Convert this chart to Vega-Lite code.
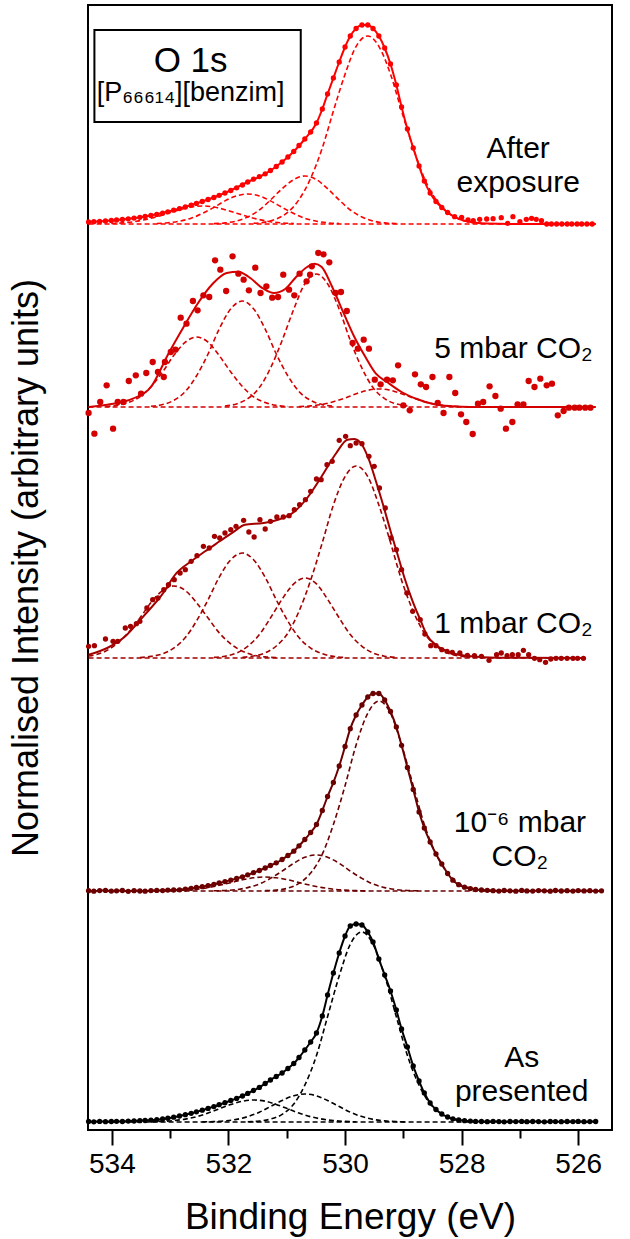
{
"$schema":"https://vega.github.io/schema/vega-lite/v6.json",
"width":524,"height":1125,
"autosize":{"type":"none"},
"padding":{"left":88,"top":5,"right":18,"bottom":109},
"background":"#ffffff",
"config":{"view":{"stroke":"#000000","strokeWidth":2},"font":"Liberation Sans"},
"datasets":{
"pts":[
{"s":"A","e":534.40,"v":4.5},{"s":"A","e":534.31,"v":4.2},{"s":"A","e":534.21,"v":4.6},{"s":"A","e":534.11,"v":4.3},{"s":"A","e":534.01,"v":4.5},{"s":"A","e":533.92,"v":4.7},{"s":"A","e":533.82,"v":4.5},{"s":"A","e":533.72,"v":4.9},{"s":"A","e":533.62,"v":5},{"s":"A","e":533.52,"v":5.3},{"s":"A","e":533.43,"v":5.5},{"s":"A","e":533.33,"v":5.9},{"s":"A","e":533.23,"v":6.3},{"s":"A","e":533.13,"v":7},{"s":"A","e":533.04,"v":7.8},{"s":"A","e":532.94,"v":8.8},{"s":"A","e":532.84,"v":10},{"s":"A","e":532.74,"v":11.3},{"s":"A","e":532.64,"v":12.7},{"s":"A","e":532.55,"v":14.2},{"s":"A","e":532.45,"v":15.8},{"s":"A","e":532.35,"v":17.6},{"s":"A","e":532.25,"v":19.4},{"s":"A","e":532.16,"v":21.3},{"s":"A","e":532.06,"v":23.3},{"s":"A","e":531.96,"v":25.5},{"s":"A","e":531.86,"v":27.6},{"s":"A","e":531.76,"v":30},{"s":"A","e":531.67,"v":32.6},{"s":"A","e":531.57,"v":35.5},{"s":"A","e":531.47,"v":38.6},{"s":"A","e":531.37,"v":42.5},{"s":"A","e":531.28,"v":46},{"s":"A","e":531.18,"v":49.5},{"s":"A","e":531.08,"v":53},{"s":"A","e":530.98,"v":57.5},{"s":"A","e":530.88,"v":62.5},{"s":"A","e":530.79,"v":68.5},{"s":"A","e":530.69,"v":76},{"s":"A","e":530.59,"v":84},{"s":"A","e":530.49,"v":93},{"s":"A","e":530.39,"v":110},{"s":"A","e":530.30,"v":131},{"s":"A","e":530.20,"v":153},{"s":"A","e":530.10,"v":173},{"s":"A","e":530.00,"v":190},{"s":"A","e":529.91,"v":200},{"s":"A","e":529.81,"v":202},{"s":"A","e":529.71,"v":201},{"s":"A","e":529.61,"v":194},{"s":"A","e":529.52,"v":184},{"s":"A","e":529.42,"v":167},{"s":"A","e":529.32,"v":151},{"s":"A","e":529.22,"v":135},{"s":"A","e":529.12,"v":116},{"s":"A","e":529.03,"v":97},{"s":"A","e":528.93,"v":79},{"s":"A","e":528.83,"v":60},{"s":"A","e":528.73,"v":45},{"s":"A","e":528.64,"v":33},{"s":"A","e":528.54,"v":23},{"s":"A","e":528.44,"v":16.5},{"s":"A","e":528.34,"v":12},{"s":"A","e":528.24,"v":9},{"s":"A","e":528.15,"v":7.2},{"s":"A","e":528.05,"v":6},{"s":"A","e":527.95,"v":5.3},{"s":"A","e":527.85,"v":4.9},{"s":"A","e":527.76,"v":4.6},{"s":"A","e":527.66,"v":4.5},{"s":"A","e":527.56,"v":4.3},{"s":"A","e":527.46,"v":4.6},{"s":"A","e":527.36,"v":4.4},{"s":"A","e":527.27,"v":4.2},{"s":"A","e":527.17,"v":4.5},{"s":"A","e":527.07,"v":4.4},{"s":"A","e":526.97,"v":4.6},{"s":"A","e":526.88,"v":4.3},{"s":"A","e":526.78,"v":4.5},{"s":"A","e":526.68,"v":4.4},{"s":"A","e":526.58,"v":4.2},{"s":"A","e":526.48,"v":4.5},{"s":"A","e":526.39,"v":4.4},{"s":"A","e":526.29,"v":4.3},{"s":"A","e":526.19,"v":4.5},{"s":"A","e":526.09,"v":4.4},{"s":"A","e":526.00,"v":4.6},{"s":"A","e":525.90,"v":4.3},{"s":"A","e":525.80,"v":4.4},{"s":"A","e":525.70,"v":4.5},
{"s":"B","e":534.40,"v":235.3},{"s":"B","e":534.31,"v":234.8},{"s":"B","e":534.21,"v":235.4},{"s":"B","e":534.11,"v":235.6},{"s":"B","e":534.01,"v":234.9},{"s":"B","e":533.92,"v":235.2},{"s":"B","e":533.82,"v":235.5},{"s":"B","e":533.72,"v":234.7},{"s":"B","e":533.62,"v":235.3},{"s":"B","e":533.52,"v":235},{"s":"B","e":533.43,"v":234.8},{"s":"B","e":533.33,"v":235.4},{"s":"B","e":533.23,"v":235.6},{"s":"B","e":533.13,"v":235.4},{"s":"B","e":533.04,"v":235.9},{"s":"B","e":532.94,"v":236},{"s":"B","e":532.84,"v":236.2},{"s":"B","e":532.74,"v":236.9},{"s":"B","e":532.64,"v":237.7},{"s":"B","e":532.55,"v":238.5},{"s":"B","e":532.45,"v":239.3},{"s":"B","e":532.35,"v":240.4},{"s":"B","e":532.25,"v":241.7},{"s":"B","e":532.16,"v":243},{"s":"B","e":532.06,"v":244.4},{"s":"B","e":531.96,"v":245.9},{"s":"B","e":531.86,"v":247.5},{"s":"B","e":531.76,"v":249.2},{"s":"B","e":531.67,"v":251.2},{"s":"B","e":531.57,"v":253.3},{"s":"B","e":531.47,"v":255.5},{"s":"B","e":531.37,"v":258},{"s":"B","e":531.28,"v":260.5},{"s":"B","e":531.18,"v":263.2},{"s":"B","e":531.08,"v":266.5},{"s":"B","e":530.98,"v":270.5},{"s":"B","e":530.88,"v":274.8},{"s":"B","e":530.79,"v":280.2},{"s":"B","e":530.69,"v":286.5},{"s":"B","e":530.59,"v":293.5},{"s":"B","e":530.49,"v":301.5},{"s":"B","e":530.39,"v":315.5},{"s":"B","e":530.30,"v":329.5},{"s":"B","e":530.20,"v":343.5},{"s":"B","e":530.10,"v":360},{"s":"B","e":530.00,"v":379.5},{"s":"B","e":529.91,"v":397.3},{"s":"B","e":529.81,"v":411},{"s":"B","e":529.71,"v":421},{"s":"B","e":529.61,"v":429},{"s":"B","e":529.52,"v":432.5},{"s":"B","e":529.42,"v":432.5},{"s":"B","e":529.32,"v":426},{"s":"B","e":529.22,"v":414.5},{"s":"B","e":529.12,"v":399},{"s":"B","e":529.03,"v":380.7},{"s":"B","e":528.93,"v":358.5},{"s":"B","e":528.83,"v":336.5},{"s":"B","e":528.73,"v":314},{"s":"B","e":528.64,"v":298},{"s":"B","e":528.54,"v":284},{"s":"B","e":528.44,"v":272},{"s":"B","e":528.34,"v":262},{"s":"B","e":528.24,"v":252.5},{"s":"B","e":528.15,"v":245.8},{"s":"B","e":528.05,"v":241.3},{"s":"B","e":527.95,"v":238.8},{"s":"B","e":527.85,"v":237.4},{"s":"B","e":527.76,"v":236.5},{"s":"B","e":527.66,"v":236},{"s":"B","e":527.56,"v":235.7},{"s":"B","e":527.46,"v":235.3},{"s":"B","e":527.36,"v":234.9},{"s":"B","e":527.27,"v":235.5},{"s":"B","e":527.17,"v":235.2},{"s":"B","e":527.07,"v":234.8},{"s":"B","e":526.97,"v":235.6},{"s":"B","e":526.88,"v":235.1},{"s":"B","e":526.78,"v":234.9},{"s":"B","e":526.68,"v":235.4},{"s":"B","e":526.58,"v":235.2},{"s":"B","e":526.48,"v":234.8},{"s":"B","e":526.39,"v":235.5},{"s":"B","e":526.29,"v":235},{"s":"B","e":526.19,"v":235.3},{"s":"B","e":526.09,"v":234.9},{"s":"B","e":526.00,"v":235.4},{"s":"B","e":525.90,"v":235.1},{"s":"B","e":525.80,"v":235.3},{"s":"B","e":525.70,"v":234.9},{"s":"B","e":525.60,"v":235.2},
{"s":"C","e":534.40,"v":479.7},{"s":"C","e":534.30,"v":480.3},{"s":"C","e":534.11,"v":487},{"s":"C","e":533.98,"v":484.7},{"s":"C","e":533.90,"v":484.7},{"s":"C","e":533.77,"v":498},{"s":"C","e":533.68,"v":499.7},{"s":"C","e":533.58,"v":502.3},{"s":"C","e":533.52,"v":504.7},{"s":"C","e":533.40,"v":518},{"s":"C","e":533.30,"v":526.3},{"s":"C","e":533.21,"v":528},{"s":"C","e":533.11,"v":536.3},{"s":"C","e":533.03,"v":541.3},{"s":"C","e":532.93,"v":546.3},{"s":"C","e":532.83,"v":553},{"s":"C","e":532.74,"v":556.3},{"s":"C","e":532.64,"v":564.7},{"s":"C","e":532.54,"v":570.3},{"s":"C","e":532.43,"v":579.7},{"s":"C","e":532.33,"v":578},{"s":"C","e":532.24,"v":589.7},{"s":"C","e":532.15,"v":588},{"s":"C","e":532.06,"v":593},{"s":"C","e":531.96,"v":596.3},{"s":"C","e":531.87,"v":599.7},{"s":"C","e":531.74,"v":605.7},{"s":"C","e":531.65,"v":594},{"s":"C","e":531.56,"v":589},{"s":"C","e":531.46,"v":606.3},{"s":"C","e":531.37,"v":597},{"s":"C","e":531.28,"v":604.7},{"s":"C","e":531.17,"v":609},{"s":"C","e":531.06,"v":609},{"s":"C","e":530.96,"v":610.3},{"s":"C","e":530.87,"v":616.3},{"s":"C","e":530.78,"v":621.3},{"s":"C","e":530.68,"v":626.3},{"s":"C","e":530.59,"v":634.7},{"s":"C","e":530.49,"v":647},{"s":"C","e":530.41,"v":646.3},{"s":"C","e":530.31,"v":661.3},{"s":"C","e":530.22,"v":664.7},{"s":"C","e":530.10,"v":685.7},{"s":"C","e":529.99,"v":689.7},{"s":"C","e":529.91,"v":680.3},{"s":"C","e":529.81,"v":683},{"s":"C","e":529.71,"v":682.3},{"s":"C","e":529.59,"v":669.7},{"s":"C","e":529.50,"v":659.7},{"s":"C","e":529.41,"v":638},{"s":"C","e":529.31,"v":618},{"s":"C","e":529.21,"v":588},{"s":"C","e":529.12,"v":576.3},{"s":"C","e":529.03,"v":556.3},{"s":"C","e":528.94,"v":533},{"s":"C","e":528.84,"v":514.7},{"s":"C","e":528.71,"v":506.3},{"s":"C","e":528.63,"v":492},{"s":"C","e":528.53,"v":480.3},{"s":"C","e":528.44,"v":480.3},{"s":"C","e":528.34,"v":476.3},{"s":"C","e":528.25,"v":474.7},{"s":"C","e":528.16,"v":473.7},{"s":"C","e":528.03,"v":473},{"s":"C","e":527.90,"v":470.7},{"s":"C","e":527.78,"v":470.3},{"s":"C","e":527.66,"v":469.7},{"s":"C","e":527.53,"v":465.7},{"s":"C","e":527.40,"v":471.3},{"s":"C","e":527.32,"v":473},{"s":"C","e":527.22,"v":470.3},{"s":"C","e":527.13,"v":471.3},{"s":"C","e":527.03,"v":471.3},{"s":"C","e":526.94,"v":475.7},{"s":"C","e":526.85,"v":471.3},{"s":"C","e":526.75,"v":467.7},{"s":"C","e":526.66,"v":466.3},{"s":"C","e":526.56,"v":463.7},{"s":"C","e":526.47,"v":467},{"s":"C","e":526.38,"v":467.7},{"s":"C","e":526.29,"v":467.7},{"s":"C","e":526.19,"v":467.7},{"s":"C","e":526.09,"v":467.7},{"s":"C","e":526.01,"v":467.7},{"s":"C","e":525.91,"v":467.7},
{"s":"D","e":534.40,"v":713},{"s":"D","e":534.30,"v":692.3},{"s":"D","e":534.20,"v":724},{"s":"D","e":534.09,"v":740.7},{"s":"D","e":533.98,"v":697.3},{"s":"D","e":533.90,"v":724},{"s":"D","e":533.80,"v":724},{"s":"D","e":533.71,"v":745},{"s":"D","e":533.59,"v":750.7},{"s":"D","e":533.50,"v":732.3},{"s":"D","e":533.41,"v":753},{"s":"D","e":533.30,"v":764},{"s":"D","e":533.21,"v":754},{"s":"D","e":533.11,"v":749},{"s":"D","e":533.09,"v":764},{"s":"D","e":532.99,"v":774},{"s":"D","e":532.91,"v":776.3},{"s":"D","e":532.82,"v":808.3},{"s":"D","e":532.72,"v":802.3},{"s":"D","e":532.61,"v":825},{"s":"D","e":532.53,"v":815.7},{"s":"D","e":532.43,"v":830.7},{"s":"D","e":532.33,"v":829},{"s":"D","e":532.23,"v":865.7},{"s":"D","e":532.14,"v":856.3},{"s":"D","e":532.04,"v":835},{"s":"D","e":531.93,"v":869.7},{"s":"D","e":531.83,"v":852.3},{"s":"D","e":531.74,"v":846.3},{"s":"D","e":531.65,"v":835.7},{"s":"D","e":531.54,"v":858.3},{"s":"D","e":531.45,"v":833},{"s":"D","e":531.35,"v":839.7},{"s":"D","e":531.25,"v":828.3},{"s":"D","e":531.15,"v":829},{"s":"D","e":531.06,"v":851.3},{"s":"D","e":530.96,"v":836.3},{"s":"D","e":530.87,"v":830.7},{"s":"D","e":530.78,"v":852.3},{"s":"D","e":530.66,"v":844.7},{"s":"D","e":530.60,"v":851.3},{"s":"D","e":530.57,"v":859.7},{"s":"D","e":530.46,"v":873},{"s":"D","e":530.37,"v":871.7},{"s":"D","e":530.27,"v":863.7},{"s":"D","e":530.16,"v":833},{"s":"D","e":530.07,"v":834},{"s":"D","e":529.97,"v":815},{"s":"D","e":529.87,"v":783},{"s":"D","e":529.78,"v":777.3},{"s":"D","e":529.68,"v":786.3},{"s":"D","e":529.59,"v":777.3},{"s":"D","e":529.49,"v":746.3},{"s":"D","e":529.39,"v":741.7},{"s":"D","e":529.28,"v":746.3},{"s":"D","e":529.18,"v":745.7},{"s":"D","e":529.09,"v":760.7},{"s":"D","e":529.00,"v":720.7},{"s":"D","e":528.89,"v":715.7},{"s":"D","e":528.80,"v":751.7},{"s":"D","e":528.70,"v":741.7},{"s":"D","e":528.61,"v":739},{"s":"D","e":528.50,"v":749},{"s":"D","e":528.41,"v":723},{"s":"D","e":528.31,"v":713},{"s":"D","e":528.21,"v":749},{"s":"D","e":528.11,"v":733},{"s":"D","e":528.01,"v":711.7},{"s":"D","e":527.92,"v":704},{"s":"D","e":527.81,"v":692},{"s":"D","e":527.72,"v":722.3},{"s":"D","e":527.63,"v":724},{"s":"D","e":527.52,"v":739.7},{"s":"D","e":527.42,"v":730},{"s":"D","e":527.33,"v":717.3},{"s":"D","e":527.24,"v":697.3},{"s":"D","e":527.13,"v":704},{"s":"D","e":527.04,"v":721.7},{"s":"D","e":526.94,"v":721.7},{"s":"D","e":526.85,"v":745},{"s":"D","e":526.75,"v":739},{"s":"D","e":526.65,"v":747.3},{"s":"D","e":526.54,"v":740.7},{"s":"D","e":526.45,"v":742.3},{"s":"D","e":526.35,"v":710.7},{"s":"D","e":526.25,"v":715},{"s":"D","e":526.16,"v":718.3},{"s":"D","e":526.06,"v":718.3},{"s":"D","e":525.98,"v":718.3},{"s":"D","e":525.88,"v":718.3},{"s":"D","e":525.79,"v":718.3},
{"s":"E","e":534.40,"v":904},{"s":"E","e":534.31,"v":904.3},{"s":"E","e":534.21,"v":904.6},{"s":"E","e":534.11,"v":905},{"s":"E","e":534.01,"v":905.5},{"s":"E","e":533.92,"v":906},{"s":"E","e":533.82,"v":906.6},{"s":"E","e":533.72,"v":907.2},{"s":"E","e":533.62,"v":907.9},{"s":"E","e":533.52,"v":908.7},{"s":"E","e":533.43,"v":909.6},{"s":"E","e":533.33,"v":910.5},{"s":"E","e":533.23,"v":911.6},{"s":"E","e":533.13,"v":912.8},{"s":"E","e":533.04,"v":914.2},{"s":"E","e":532.94,"v":915.8},{"s":"E","e":532.84,"v":917.4},{"s":"E","e":532.74,"v":919},{"s":"E","e":532.64,"v":920.8},{"s":"E","e":532.55,"v":922.6},{"s":"E","e":532.45,"v":924.5},{"s":"E","e":532.35,"v":926.5},{"s":"E","e":532.25,"v":928.5},{"s":"E","e":532.16,"v":930.7},{"s":"E","e":532.06,"v":933},{"s":"E","e":531.96,"v":935.5},{"s":"E","e":531.86,"v":938.2},{"s":"E","e":531.76,"v":941},{"s":"E","e":531.67,"v":944},{"s":"E","e":531.57,"v":946.8},{"s":"E","e":531.47,"v":949.4},{"s":"E","e":531.37,"v":952.2},{"s":"E","e":531.28,"v":955.5},{"s":"E","e":531.18,"v":959.5},{"s":"E","e":531.08,"v":964},{"s":"E","e":530.98,"v":969},{"s":"E","e":530.88,"v":974.5},{"s":"E","e":530.79,"v":980.5},{"s":"E","e":530.69,"v":987},{"s":"E","e":530.59,"v":994},{"s":"E","e":530.49,"v":1003},{"s":"E","e":530.39,"v":1017},{"s":"E","e":530.30,"v":1032},{"s":"E","e":530.20,"v":1048},{"s":"E","e":530.10,"v":1064},{"s":"E","e":530.00,"v":1079},{"s":"E","e":529.91,"v":1090},{"s":"E","e":529.81,"v":1097.5},{"s":"E","e":529.71,"v":1101},{"s":"E","e":529.61,"v":1101},{"s":"E","e":529.52,"v":1097.5},{"s":"E","e":529.42,"v":1090},{"s":"E","e":529.32,"v":1078},{"s":"E","e":529.22,"v":1062},{"s":"E","e":529.12,"v":1041},{"s":"E","e":529.03,"v":1019},{"s":"E","e":528.93,"v":997},{"s":"E","e":528.83,"v":978},{"s":"E","e":528.73,"v":960},{"s":"E","e":528.64,"v":945},{"s":"E","e":528.54,"v":933},{"s":"E","e":528.44,"v":924.5},{"s":"E","e":528.34,"v":918.5},{"s":"E","e":528.24,"v":913.5},{"s":"E","e":528.12,"v":909.3},{"s":"E","e":528.00,"v":908.7},{"s":"E","e":527.89,"v":906},{"s":"E","e":527.80,"v":905.3},{"s":"E","e":527.69,"v":906.7},{"s":"E","e":527.57,"v":907},{"s":"E","e":527.46,"v":907.3},{"s":"E","e":527.32,"v":908.3},{"s":"E","e":527.21,"v":902.7},{"s":"E","e":527.12,"v":909.3},{"s":"E","e":527.00,"v":904.3},{"s":"E","e":526.89,"v":906.7},{"s":"E","e":526.80,"v":907.7},{"s":"E","e":526.72,"v":906.7},{"s":"E","e":526.63,"v":905.3},{"s":"E","e":526.54,"v":902},{"s":"E","e":526.46,"v":902},{"s":"E","e":526.37,"v":902},{"s":"E","e":526.28,"v":902},{"s":"E","e":526.19,"v":902},{"s":"E","e":526.11,"v":902},{"s":"E","e":526.02,"v":902},{"s":"E","e":525.94,"v":902},{"s":"E","e":525.85,"v":902},{"s":"E","e":525.76,"v":902}
],
"fit":[
{"s":"C","e":534.40,"v":471.3},{"s":"C","e":534.08,"v":478},{"s":"C","e":533.77,"v":489.7},{"s":"C","e":533.46,"v":509.7},{"s":"C","e":533.14,"v":531.3},{"s":"C","e":532.90,"v":552.3},{"s":"C","e":532.64,"v":564.7},{"s":"C","e":532.40,"v":574.7},{"s":"C","e":532.15,"v":584.7},{"s":"C","e":531.90,"v":594.7},{"s":"C","e":531.72,"v":601.3},{"s":"C","e":531.40,"v":603},{"s":"C","e":531.15,"v":606.3},{"s":"C","e":530.90,"v":613},{"s":"C","e":530.65,"v":628},{"s":"C","e":530.40,"v":649.7},{"s":"C","e":530.15,"v":673},{"s":"C","e":529.96,"v":686.3},{"s":"C","e":529.84,"v":687},{"s":"C","e":529.71,"v":681.3},{"s":"C","e":529.59,"v":666.3},{"s":"C","e":529.47,"v":644.7},{"s":"C","e":529.34,"v":619.7},{"s":"C","e":529.21,"v":593},{"s":"C","e":529.09,"v":569.7},{"s":"C","e":528.97,"v":546.3},{"s":"C","e":528.84,"v":524.7},{"s":"C","e":528.71,"v":506.3},{"s":"C","e":528.60,"v":491.3},{"s":"C","e":528.41,"v":479.7},{"s":"C","e":528.16,"v":473},{"s":"C","e":527.84,"v":469.7},{"s":"C","e":527.40,"v":468.3},{"s":"C","e":525.90,"v":468},
{"s":"D","e":534.40,"v":719},{"s":"D","e":534.01,"v":722},{"s":"D","e":533.64,"v":727.3},{"s":"D","e":533.33,"v":739},{"s":"D","e":533.03,"v":772.3},{"s":"D","e":532.77,"v":799},{"s":"D","e":532.53,"v":822.3},{"s":"D","e":532.27,"v":842.3},{"s":"D","e":532.03,"v":853},{"s":"D","e":531.83,"v":854.3},{"s":"D","e":531.65,"v":849},{"s":"D","e":531.40,"v":837.3},{"s":"D","e":531.22,"v":833},{"s":"D","e":531.02,"v":837.3},{"s":"D","e":530.84,"v":849},{"s":"D","e":530.65,"v":859},{"s":"D","e":530.52,"v":862.3},{"s":"D","e":530.40,"v":859},{"s":"D","e":530.22,"v":839},{"s":"D","e":530.02,"v":812.3},{"s":"D","e":529.84,"v":789},{"s":"D","e":529.65,"v":769},{"s":"D","e":529.47,"v":752.3},{"s":"D","e":529.28,"v":744},{"s":"D","e":529.03,"v":734},{"s":"D","e":528.78,"v":727.3},{"s":"D","e":528.47,"v":721.7},{"s":"D","e":528.16,"v":719.7},{"s":"D","e":527.85,"v":719},{"s":"D","e":525.70,"v":719},
{"s":"E","e":534.40,"v":904},{"s":"E","e":533.92,"v":906},{"s":"E","e":533.43,"v":909.6},{"s":"E","e":532.94,"v":915.8},{"s":"E","e":532.45,"v":924.5},{"s":"E","e":532.06,"v":933},{"s":"E","e":531.67,"v":944},{"s":"E","e":531.37,"v":952.2},{"s":"E","e":531.08,"v":964},{"s":"E","e":530.88,"v":974.5},{"s":"E","e":530.69,"v":987},{"s":"E","e":530.49,"v":1003},{"s":"E","e":530.39,"v":1017},{"s":"E","e":530.30,"v":1032},{"s":"E","e":530.20,"v":1048},{"s":"E","e":530.10,"v":1064},{"s":"E","e":530.00,"v":1079},{"s":"E","e":529.91,"v":1090},{"s":"E","e":529.81,"v":1097.5},{"s":"E","e":529.71,"v":1101},{"s":"E","e":529.61,"v":1101},{"s":"E","e":529.52,"v":1097.5},{"s":"E","e":529.42,"v":1090},{"s":"E","e":529.32,"v":1078},{"s":"E","e":529.22,"v":1062},{"s":"E","e":529.12,"v":1041},{"s":"E","e":529.03,"v":1019},{"s":"E","e":528.93,"v":997},{"s":"E","e":528.83,"v":978},{"s":"E","e":528.73,"v":960},{"s":"E","e":528.64,"v":945},{"s":"E","e":528.54,"v":933},{"s":"E","e":528.44,"v":924.5},{"s":"E","e":528.34,"v":918.5},{"s":"E","e":528.24,"v":913.5},{"s":"E","e":528.15,"v":910},{"s":"E","e":528.05,"v":907.3},{"s":"E","e":527.95,"v":905.3},{"s":"E","e":527.76,"v":903.3},{"s":"E","e":527.56,"v":902.5},{"s":"E","e":527.07,"v":902},{"s":"E","e":525.70,"v":902}
],
"comp":[
{"s":"A","k":"A0","e":534.40,"v":4},{"s":"A","k":"A0","e":525.70,"v":4},
{"s":"A","k":"A1","e":527.76,"v":4.3},{"s":"A","k":"A1","e":527.95,"v":4.9},{"s":"A","k":"A1","e":528.15,"v":6.9},{"s":"A","k":"A1","e":528.34,"v":11.6},{"s":"A","k":"A1","e":528.54,"v":21.9},{"s":"A","k":"A1","e":528.73,"v":40.9},{"s":"A","k":"A1","e":528.93,"v":70.5},{"s":"A","k":"A1","e":529.12,"v":109.3},{"s":"A","k":"A1","e":529.32,"v":150.1},{"s":"A","k":"A1","e":529.52,"v":181.8},{"s":"A","k":"A1","e":529.71,"v":194},{"s":"A","k":"A1","e":529.91,"v":181.8},{"s":"A","k":"A1","e":530.10,"v":150.1},{"s":"A","k":"A1","e":530.30,"v":109.3},{"s":"A","k":"A1","e":530.49,"v":70.5},{"s":"A","k":"A1","e":530.69,"v":40.9},{"s":"A","k":"A1","e":530.88,"v":21.9},{"s":"A","k":"A1","e":531.08,"v":11.6},{"s":"A","k":"A1","e":531.28,"v":6.9},{"s":"A","k":"A1","e":531.47,"v":4.9},{"s":"A","k":"A1","e":531.67,"v":4.3},
{"s":"A","k":"A2","e":528.93,"v":4.1},{"s":"A","k":"A2","e":529.12,"v":4.4},{"s":"A","k":"A2","e":529.32,"v":5.1},{"s":"A","k":"A2","e":529.52,"v":6.6},{"s":"A","k":"A2","e":529.71,"v":9.4},{"s":"A","k":"A2","e":529.91,"v":13.8},{"s":"A","k":"A2","e":530.10,"v":19.5},{"s":"A","k":"A2","e":530.30,"v":25.5},{"s":"A","k":"A2","e":530.49,"v":30.2},{"s":"A","k":"A2","e":530.69,"v":32},{"s":"A","k":"A2","e":530.88,"v":30.2},{"s":"A","k":"A2","e":531.08,"v":25.5},{"s":"A","k":"A2","e":531.28,"v":19.5},{"s":"A","k":"A2","e":531.47,"v":13.8},{"s":"A","k":"A2","e":531.67,"v":9.4},{"s":"A","k":"A2","e":531.86,"v":6.6},{"s":"A","k":"A2","e":532.06,"v":5.1},{"s":"A","k":"A2","e":532.25,"v":4.4},{"s":"A","k":"A2","e":532.45,"v":4.1},
{"s":"A","k":"A3","e":529.81,"v":4.2},{"s":"A","k":"A3","e":530.00,"v":4.6},{"s":"A","k":"A3","e":530.20,"v":5.4},{"s":"A","k":"A3","e":530.39,"v":6.9},{"s":"A","k":"A3","e":530.59,"v":9.3},{"s":"A","k":"A3","e":530.79,"v":12.9},{"s":"A","k":"A3","e":530.98,"v":17.2},{"s":"A","k":"A3","e":531.18,"v":21.5},{"s":"A","k":"A3","e":531.37,"v":24.8},{"s":"A","k":"A3","e":531.57,"v":26},{"s":"A","k":"A3","e":531.76,"v":24.8},{"s":"A","k":"A3","e":531.96,"v":21.5},{"s":"A","k":"A3","e":532.16,"v":17.2},{"s":"A","k":"A3","e":532.35,"v":12.9},{"s":"A","k":"A3","e":532.55,"v":9.3},{"s":"A","k":"A3","e":532.74,"v":6.9},{"s":"A","k":"A3","e":532.94,"v":5.4},{"s":"A","k":"A3","e":533.13,"v":4.6},{"s":"A","k":"A3","e":533.33,"v":4.2},
{"s":"B","k":"B0","e":534.40,"v":235},{"s":"B","k":"B0","e":525.60,"v":235},
{"s":"B","k":"B1","e":527.46,"v":235.4},{"s":"B","k":"B1","e":527.66,"v":235.9},{"s":"B","k":"B1","e":527.85,"v":237.9},{"s":"B","k":"B1","e":528.05,"v":242.6},{"s":"B","k":"B1","e":528.24,"v":252.9},{"s":"B","k":"B1","e":528.44,"v":271.9},{"s":"B","k":"B1","e":528.64,"v":301.5},{"s":"B","k":"B1","e":528.83,"v":340.3},{"s":"B","k":"B1","e":529.03,"v":381.1},{"s":"B","k":"B1","e":529.22,"v":412.8},{"s":"B","k":"B1","e":529.42,"v":425},{"s":"B","k":"B1","e":529.61,"v":412.8},{"s":"B","k":"B1","e":529.81,"v":381.1},{"s":"B","k":"B1","e":530.00,"v":340.3},{"s":"B","k":"B1","e":530.20,"v":301.5},{"s":"B","k":"B1","e":530.39,"v":271.9},{"s":"B","k":"B1","e":530.59,"v":252.9},{"s":"B","k":"B1","e":530.79,"v":242.6},{"s":"B","k":"B1","e":530.98,"v":237.9},{"s":"B","k":"B1","e":531.18,"v":235.9},{"s":"B","k":"B1","e":531.37,"v":235.4},
{"s":"B","k":"B2","e":528.73,"v":235.2},{"s":"B","k":"B2","e":528.93,"v":235.5},{"s":"B","k":"B2","e":529.12,"v":236.4},{"s":"B","k":"B2","e":529.32,"v":238.4},{"s":"B","k":"B2","e":529.52,"v":242},{"s":"B","k":"B2","e":529.71,"v":247.6},{"s":"B","k":"B2","e":529.91,"v":254.9},{"s":"B","k":"B2","e":530.10,"v":262.7},{"s":"B","k":"B2","e":530.30,"v":268.7},{"s":"B","k":"B2","e":530.49,"v":271},{"s":"B","k":"B2","e":530.69,"v":268.7},{"s":"B","k":"B2","e":530.88,"v":262.7},{"s":"B","k":"B2","e":531.08,"v":254.9},{"s":"B","k":"B2","e":531.28,"v":247.6},{"s":"B","k":"B2","e":531.47,"v":242},{"s":"B","k":"B2","e":531.67,"v":238.4},{"s":"B","k":"B2","e":531.86,"v":236.4},{"s":"B","k":"B2","e":532.06,"v":235.5},{"s":"B","k":"B2","e":532.25,"v":235.2},
{"s":"B","k":"B3","e":529.61,"v":235.1},{"s":"B","k":"B3","e":529.81,"v":235.4},{"s":"B","k":"B3","e":530.00,"v":235.9},{"s":"B","k":"B3","e":530.20,"v":236.8},{"s":"B","k":"B3","e":530.39,"v":238.4},{"s":"B","k":"B3","e":530.59,"v":240.7},{"s":"B","k":"B3","e":530.79,"v":243.4},{"s":"B","k":"B3","e":530.98,"v":246.2},{"s":"B","k":"B3","e":531.18,"v":248.2},{"s":"B","k":"B3","e":531.37,"v":249},{"s":"B","k":"B3","e":531.57,"v":248.2},{"s":"B","k":"B3","e":531.76,"v":246.2},{"s":"B","k":"B3","e":531.96,"v":243.4},{"s":"B","k":"B3","e":532.16,"v":240.7},{"s":"B","k":"B3","e":532.35,"v":238.4},{"s":"B","k":"B3","e":532.55,"v":236.8},{"s":"B","k":"B3","e":532.74,"v":235.9},{"s":"B","k":"B3","e":532.94,"v":235.4},{"s":"B","k":"B3","e":533.13,"v":235.1},
{"s":"C","k":"C0","e":534.40,"v":468},{"s":"C","k":"C0","e":525.90,"v":468},
{"s":"C","k":"C1","e":527.85,"v":468.7},{"s":"C","k":"C1","e":528.05,"v":470},{"s":"C","k":"C1","e":528.24,"v":473.1},{"s":"C","k":"C1","e":528.44,"v":480},{"s":"C","k":"C1","e":528.64,"v":493},{"s":"C","k":"C1","e":528.83,"v":514.7},{"s":"C","k":"C1","e":529.03,"v":545.8},{"s":"C","k":"C1","e":529.22,"v":583.4},{"s":"C","k":"C1","e":529.42,"v":621},{"s":"C","k":"C1","e":529.61,"v":649.4},{"s":"C","k":"C1","e":529.81,"v":660},{"s":"C","k":"C1","e":530.00,"v":649.4},{"s":"C","k":"C1","e":530.20,"v":621},{"s":"C","k":"C1","e":530.39,"v":583.4},{"s":"C","k":"C1","e":530.59,"v":545.8},{"s":"C","k":"C1","e":530.79,"v":514.7},{"s":"C","k":"C1","e":530.98,"v":493},{"s":"C","k":"C1","e":531.18,"v":480},{"s":"C","k":"C1","e":531.37,"v":473.1},{"s":"C","k":"C1","e":531.57,"v":470},{"s":"C","k":"C1","e":531.76,"v":468.7},
{"s":"C","k":"C2","e":529.12,"v":468.6},{"s":"C","k":"C2","e":529.32,"v":469.8},{"s":"C","k":"C2","e":529.52,"v":473},{"s":"C","k":"C2","e":529.71,"v":479.7},{"s":"C","k":"C2","e":529.91,"v":491.4},{"s":"C","k":"C2","e":530.10,"v":508},{"s":"C","k":"C2","e":530.30,"v":526.8},{"s":"C","k":"C2","e":530.49,"v":542.1},{"s":"C","k":"C2","e":530.69,"v":548},{"s":"C","k":"C2","e":530.88,"v":542.1},{"s":"C","k":"C2","e":531.08,"v":526.8},{"s":"C","k":"C2","e":531.28,"v":508},{"s":"C","k":"C2","e":531.47,"v":491.4},{"s":"C","k":"C2","e":531.67,"v":479.7},{"s":"C","k":"C2","e":531.86,"v":473},{"s":"C","k":"C2","e":532.06,"v":469.8},{"s":"C","k":"C2","e":532.25,"v":468.6},
{"s":"C","k":"C3","e":530.00,"v":468.5},{"s":"C","k":"C3","e":530.20,"v":469.6},{"s":"C","k":"C3","e":530.39,"v":472.2},{"s":"C","k":"C3","e":530.59,"v":477.9},{"s":"C","k":"C3","e":530.79,"v":488.4},{"s":"C","k":"C3","e":530.98,"v":504.8},{"s":"C","k":"C3","e":531.18,"v":526.2},{"s":"C","k":"C3","e":531.37,"v":548.7},{"s":"C","k":"C3","e":531.57,"v":566.3},{"s":"C","k":"C3","e":531.76,"v":573},{"s":"C","k":"C3","e":531.96,"v":566.3},{"s":"C","k":"C3","e":532.16,"v":548.7},{"s":"C","k":"C3","e":532.35,"v":526.2},{"s":"C","k":"C3","e":532.55,"v":504.8},{"s":"C","k":"C3","e":532.74,"v":488.4},{"s":"C","k":"C3","e":532.94,"v":477.9},{"s":"C","k":"C3","e":533.13,"v":472.2},{"s":"C","k":"C3","e":533.33,"v":469.6},{"s":"C","k":"C3","e":533.52,"v":468.5},
{"s":"C","k":"C4","e":531.18,"v":468.4},{"s":"C","k":"C4","e":531.37,"v":469.1},{"s":"C","k":"C4","e":531.57,"v":470.9},{"s":"C","k":"C4","e":531.76,"v":474.8},{"s":"C","k":"C4","e":531.96,"v":482},{"s":"C","k":"C4","e":532.16,"v":493.2},{"s":"C","k":"C4","e":532.35,"v":507.9},{"s":"C","k":"C4","e":532.55,"v":523.4},{"s":"C","k":"C4","e":532.74,"v":535.4},{"s":"C","k":"C4","e":532.94,"v":540},{"s":"C","k":"C4","e":533.13,"v":535.4},{"s":"C","k":"C4","e":533.33,"v":523.4},{"s":"C","k":"C4","e":533.52,"v":507.9},{"s":"C","k":"C4","e":533.72,"v":493.2},{"s":"C","k":"C4","e":533.92,"v":482},{"s":"C","k":"C4","e":534.11,"v":474.8},{"s":"C","k":"C4","e":534.31,"v":470.9},{"s":"C","k":"C4","e":534.40,"v":470},
{"s":"D","k":"D0","e":534.40,"v":719},{"s":"D","k":"D0","e":525.70,"v":719},
{"s":"D","k":"D1","e":528.93,"v":720},{"s":"D","k":"D1","e":529.12,"v":722.1},{"s":"D","k":"D1","e":529.32,"v":727.3},{"s":"D","k":"D1","e":529.52,"v":738.4},{"s":"D","k":"D1","e":529.71,"v":757.8},{"s":"D","k":"D1","e":529.91,"v":785.5},{"s":"D","k":"D1","e":530.10,"v":816.8},{"s":"D","k":"D1","e":530.30,"v":842.2},{"s":"D","k":"D1","e":530.49,"v":852},{"s":"D","k":"D1","e":530.69,"v":842.2},{"s":"D","k":"D1","e":530.88,"v":816.8},{"s":"D","k":"D1","e":531.08,"v":785.5},{"s":"D","k":"D1","e":531.28,"v":757.8},{"s":"D","k":"D1","e":531.47,"v":738.4},{"s":"D","k":"D1","e":531.67,"v":727.3},{"s":"D","k":"D1","e":531.86,"v":722.1},{"s":"D","k":"D1","e":532.06,"v":720},
{"s":"D","k":"D2","e":530.20,"v":719.8},{"s":"D","k":"D2","e":530.39,"v":721.4},{"s":"D","k":"D2","e":530.59,"v":725.6},{"s":"D","k":"D2","e":530.79,"v":734.5},{"s":"D","k":"D2","e":530.98,"v":750},{"s":"D","k":"D2","e":531.18,"v":772},{"s":"D","k":"D2","e":531.37,"v":796.9},{"s":"D","k":"D2","e":531.57,"v":817.2},{"s":"D","k":"D2","e":531.76,"v":825},{"s":"D","k":"D2","e":531.96,"v":817.2},{"s":"D","k":"D2","e":532.16,"v":796.9},{"s":"D","k":"D2","e":532.35,"v":772},{"s":"D","k":"D2","e":532.55,"v":750},{"s":"D","k":"D2","e":532.74,"v":734.5},{"s":"D","k":"D2","e":532.94,"v":725.6},{"s":"D","k":"D2","e":533.13,"v":721.4},{"s":"D","k":"D2","e":533.33,"v":719.8},
{"s":"D","k":"D3","e":530.98,"v":719.5},{"s":"D","k":"D3","e":531.18,"v":720.6},{"s":"D","k":"D3","e":531.37,"v":723.4},{"s":"D","k":"D3","e":531.57,"v":729.2},{"s":"D","k":"D3","e":531.76,"v":739.4},{"s":"D","k":"D3","e":531.96,"v":754},{"s":"D","k":"D3","e":532.16,"v":770.5},{"s":"D","k":"D3","e":532.35,"v":783.8},{"s":"D","k":"D3","e":532.55,"v":789},{"s":"D","k":"D3","e":532.74,"v":783.8},{"s":"D","k":"D3","e":532.94,"v":770.5},{"s":"D","k":"D3","e":533.13,"v":754},{"s":"D","k":"D3","e":533.33,"v":739.4},{"s":"D","k":"D3","e":533.52,"v":729.2},{"s":"D","k":"D3","e":533.72,"v":723.4},{"s":"D","k":"D3","e":533.92,"v":720.6},{"s":"D","k":"D3","e":534.11,"v":719.5},
{"s":"D","k":"D4","e":528.05,"v":719.4},{"s":"D","k":"D4","e":528.24,"v":720.1},{"s":"D","k":"D4","e":528.44,"v":721.6},{"s":"D","k":"D4","e":528.64,"v":724.3},{"s":"D","k":"D4","e":528.83,"v":728},{"s":"D","k":"D4","e":529.03,"v":732.2},{"s":"D","k":"D4","e":529.22,"v":735.7},{"s":"D","k":"D4","e":529.42,"v":737},{"s":"D","k":"D4","e":529.61,"v":735.7},{"s":"D","k":"D4","e":529.81,"v":732.2},{"s":"D","k":"D4","e":530.00,"v":728},{"s":"D","k":"D4","e":530.20,"v":724.3},{"s":"D","k":"D4","e":530.39,"v":721.6},{"s":"D","k":"D4","e":530.59,"v":720.1},{"s":"D","k":"D4","e":530.79,"v":719.4},
{"s":"E","k":"E0","e":534.40,"v":902},{"s":"E","k":"E0","e":525.70,"v":902},
{"s":"E","k":"E1","e":527.66,"v":902.7},{"s":"E","k":"E1","e":527.85,"v":903.9},{"s":"E","k":"E1","e":528.05,"v":907},{"s":"E","k":"E1","e":528.24,"v":913.8},{"s":"E","k":"E1","e":528.44,"v":926.4},{"s":"E","k":"E1","e":528.64,"v":947.7},{"s":"E","k":"E1","e":528.83,"v":978.1},{"s":"E","k":"E1","e":529.03,"v":1015},{"s":"E","k":"E1","e":529.22,"v":1051.8},{"s":"E","k":"E1","e":529.42,"v":1079.7},{"s":"E","k":"E1","e":529.61,"v":1090},{"s":"E","k":"E1","e":529.81,"v":1079.7},{"s":"E","k":"E1","e":530.00,"v":1051.8},{"s":"E","k":"E1","e":530.20,"v":1015},{"s":"E","k":"E1","e":530.39,"v":978.1},{"s":"E","k":"E1","e":530.59,"v":947.7},{"s":"E","k":"E1","e":530.79,"v":926.4},{"s":"E","k":"E1","e":530.98,"v":913.8},{"s":"E","k":"E1","e":531.18,"v":907},{"s":"E","k":"E1","e":531.37,"v":903.9},{"s":"E","k":"E1","e":531.57,"v":902.7},
{"s":"E","k":"E2","e":529.12,"v":902.4},{"s":"E","k":"E2","e":529.32,"v":903.1},{"s":"E","k":"E2","e":529.52,"v":905},{"s":"E","k":"E2","e":529.71,"v":909},{"s":"E","k":"E2","e":529.91,"v":916},{"s":"E","k":"E2","e":530.10,"v":926},{"s":"E","k":"E2","e":530.30,"v":937.3},{"s":"E","k":"E2","e":530.49,"v":946.4},{"s":"E","k":"E2","e":530.69,"v":950},{"s":"E","k":"E2","e":530.88,"v":946.4},{"s":"E","k":"E2","e":531.08,"v":937.3},{"s":"E","k":"E2","e":531.28,"v":926},{"s":"E","k":"E2","e":531.47,"v":916},{"s":"E","k":"E2","e":531.67,"v":909},{"s":"E","k":"E2","e":531.86,"v":905},{"s":"E","k":"E2","e":532.06,"v":903.1},{"s":"E","k":"E2","e":532.25,"v":902.4},
{"s":"E","k":"E3","e":530.10,"v":902.5},{"s":"E","k":"E3","e":530.30,"v":903.2},{"s":"E","k":"E3","e":530.49,"v":904.8},{"s":"E","k":"E3","e":530.69,"v":907.8},{"s":"E","k":"E3","e":530.88,"v":912.5},{"s":"E","k":"E3","e":531.08,"v":918.6},{"s":"E","k":"E3","e":531.28,"v":925.1},{"s":"E","k":"E3","e":531.47,"v":930.1},{"s":"E","k":"E3","e":531.67,"v":932},{"s":"E","k":"E3","e":531.86,"v":930.1},{"s":"E","k":"E3","e":532.06,"v":925.1},{"s":"E","k":"E3","e":532.25,"v":918.6},{"s":"E","k":"E3","e":532.45,"v":912.5},{"s":"E","k":"E3","e":532.64,"v":907.8},{"s":"E","k":"E3","e":532.84,"v":904.8},{"s":"E","k":"E3","e":533.04,"v":903.2},{"s":"E","k":"E3","e":533.23,"v":902.5},
{"s":"E","k":"E4","e":530.88,"v":902.5},{"s":"E","k":"E4","e":531.08,"v":903.1},{"s":"E","k":"E4","e":531.28,"v":904.3},{"s":"E","k":"E4","e":531.47,"v":906.4},{"s":"E","k":"E4","e":531.67,"v":909.3},{"s":"E","k":"E4","e":531.86,"v":912.8},{"s":"E","k":"E4","e":532.06,"v":916.3},{"s":"E","k":"E4","e":532.25,"v":919},{"s":"E","k":"E4","e":532.45,"v":920},{"s":"E","k":"E4","e":532.64,"v":919},{"s":"E","k":"E4","e":532.84,"v":916.3},{"s":"E","k":"E4","e":533.04,"v":912.8},{"s":"E","k":"E4","e":533.23,"v":909.3},{"s":"E","k":"E4","e":533.43,"v":906.4},{"s":"E","k":"E4","e":533.62,"v":904.3},{"s":"E","k":"E4","e":533.82,"v":903.1},{"s":"E","k":"E4","e":534.01,"v":902.5}
],
"labels":[
{"t":"After\nexposure","e":527.03,"v":968},
{"t":"5 mbar CO₂","e":527.11,"v":768},
{"t":"1 mbar CO₂","e":527.11,"v":493},
{"t":"10⁻⁶ mbar\nCO₂","e":527.00,"v":294},
{"t":"As\npresented","e":526.97,"v":59}
],
"head":[{"t":"O 1s","e":532.65,"v":1054}],
"formula":[{"t":"[P₆₆₆₁₄][benzim]","e":532.65,"v":1025}],
"box":[{"e":534.30,"e2":530.76,"v":1096,"v2":1004}]
},
"encoding":{
"x":{"field":"e","type":"quantitative","scale":{"domain":[525.42,534.41],"reverse":true,"nice":false,"zero":false},
"axis":{"values":[526,527,528,529,530,531,532,533,534],"title":"Binding Energy (eV)","titleFont":"Liberation Sans","titleFontSize":37,"titleFontWeight":"normal","titleColor":"#000000","titlePadding":21,"labelFont":"Liberation Sans","labelFontSize":28,"labelColor":"#000000","labelPadding":5,"labelExpr":"datum.value % 2 === 0 ? datum.label : ''","labelOverlap":false,"labelFlush":false,"tickColor":"#000000","tickWidth":2,"tickSize":{"condition":{"test":"datum.value % 2 === 0","value":15},"value":8},"domain":false,"grid":false}},
"y":{"field":"v","type":"quantitative","scale":{"domain":[-4,1121],"nice":false,"zero":false},
"axis":{"title":"Normalised Intensity (arbitrary units)","titleFont":"Liberation Sans","titleFontSize":36,"titleFontWeight":"normal","titleColor":"#000000","titlePadding":43,"labels":false,"ticks":false,"domain":false,"grid":false}}
},
"layer":[
{"data":{"name":"comp"},"mark":{"type":"line","strokeDash":[5,3],"strokeWidth":1.6,"interpolate":"monotone"},
 "encoding":{"detail":{"field":"k"},"color":{"field":"s","type":"nominal","scale":{"domain":["A","B","C","D","E"],"range":["#000000","#6b0000","#a30000","#d40000","#ff0000"]},"legend":null}}},
{"data":{"name":"fit"},"mark":{"type":"line","strokeWidth":2,"interpolate":"monotone"},
 "encoding":{"color":{"field":"s","type":"nominal","scale":{"domain":["A","B","C","D","E"],"range":["#000000","#6b0000","#a30000","#d40000","#ff0000"]},"legend":null}}},
{"data":{"name":"pts"},"transform":[{"filter":"datum.s === 'A' || datum.s === 'B'"}],"mark":{"type":"line","strokeWidth":2,"interpolate":"monotone"},
 "encoding":{"color":{"field":"s","type":"nominal","scale":{"domain":["A","B","C","D","E"],"range":["#000000","#6b0000","#a30000","#d40000","#ff0000"]},"legend":null}}},
{"data":{"name":"pts"},"transform":[{"filter":"datum.s !== 'D'"}],"mark":{"type":"circle","size":28,"opacity":1},
 "encoding":{"color":{"field":"s","type":"nominal","scale":{"domain":["A","B","C","D","E"],"range":["#000000","#6b0000","#a30000","#d40000","#ff0000"]},"legend":null}}},
{"data":{"name":"pts"},"transform":[{"filter":"datum.s === 'D'"}],"mark":{"type":"circle","size":40,"opacity":1},
 "encoding":{"color":{"field":"s","type":"nominal","scale":{"domain":["A","B","C","D","E"],"range":["#000000","#6b0000","#a30000","#d40000","#ff0000"]},"legend":null}}},
{"data":{"name":"box"},"mark":{"type":"rect","fill":"#ffffff","stroke":"#000000","strokeWidth":2},
 "encoding":{"x2":{"field":"e2"},"y2":{"field":"v2"}}},
{"data":{"name":"labels"},"mark":{"type":"text","font":"Liberation Sans","fontSize":30,"align":"center","baseline":"alphabetic","lineBreak":"\n","lineHeight":34,"color":"#000000"},
 "encoding":{"text":{"field":"t"}}},
{"data":{"name":"head"},"mark":{"type":"text","font":"Liberation Sans","fontSize":35,"align":"center","baseline":"alphabetic","color":"#000000"},
 "encoding":{"text":{"field":"t"}}},
{"data":{"name":"formula"},"mark":{"type":"text","font":"Liberation Sans","fontSize":27,"align":"center","baseline":"alphabetic","color":"#000000"},
 "encoding":{"text":{"field":"t"}}}
]
}
